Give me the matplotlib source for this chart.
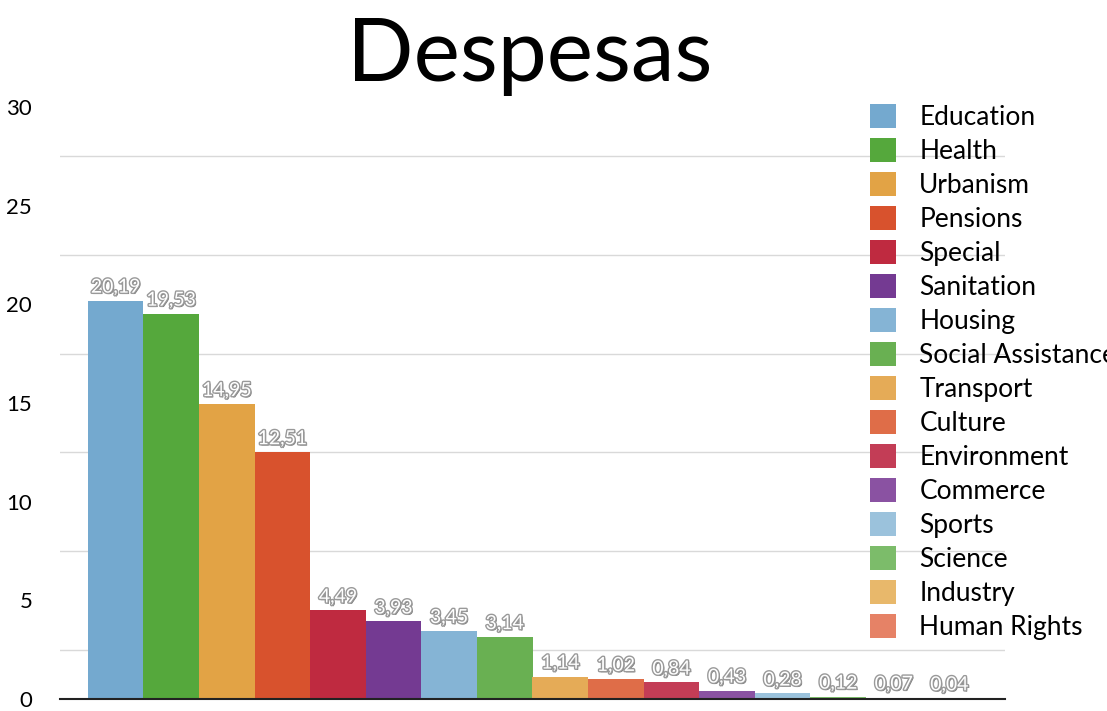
import matplotlib
matplotlib.use("Agg")
import matplotlib.pyplot as plt
import matplotlib.patheffects as pe
import numpy as np

plt.rcParams['font.family'] = ['Lato', 'DejaVu Sans']

categories = ["Education", "Health", "Urbanism", "Pensions", "Special", "Sanitation",
              "Housing", "Social Assistance", "Transport", "Culture", "Environment",
              "Commerce", "Sports", "Science", "Industry", "Human Rights"]
values = [20.19, 19.53, 14.95, 12.51, 4.49, 3.93, 3.45, 3.14,
          1.14, 1.02, 0.84, 0.43, 0.28, 0.12, 0.07, 0.04]
colors = ["#74a9cf", "#55a83c", "#e2a345", "#d8522d", "#bf2a40", "#743a92",
          "#85b4d5", "#69b052", "#e5ab57", "#df6d48", "#c33d56", "#8a52a2",
          "#9bc2dc", "#7cbc6a", "#e8b86b", "#e68266"]
y_ticks = [0, 5, 10, 15, 20, 25, 30]

W, H = 1107, 711
fig = plt.figure(figsize=(W / 100, H / 100), dpi=100)
ax = fig.add_axes([60 / W, 12 / H, (1005 - 60) / W, (699 - 107) / H])

x = np.arange(len(values))
bars = ax.bar(x, values, width=1.0, color=colors, label=categories, zorder=2)

# value labels: white text with a grey outline and soft shadow
for xi, v in zip(x, values):
    txt = ax.text(xi, v + 0.25, "{:.2f}".format(v).replace(".", ","),
                  ha="center", va="bottom", fontsize=14, color="white", zorder=3)
    txt.set_path_effects([pe.withSimplePatchShadow(offset=(1, -1), shadow_rgbFace="#555555", alpha=0.8),
                          pe.withStroke(linewidth=2, foreground="#999999")])

ax.set_xlim(-1, 16)
ax.set_ylim(0, 30)
ax.set_yticks(y_ticks)
ax.set_yticklabels([str(t) for t in y_ticks], fontsize=16)
# gridlines sit halfway between the labelled values
ax.set_yticks(np.arange(2.5, 30, 5), minor=True)
ax.tick_params(axis="y", which="both", length=0, pad=20)
ax.tick_params(axis="x", length=0, labelbottom=False)
ax.grid(axis="y", which="minor", color="#d9d9d9", linewidth=1, zorder=0)
for s in ["top", "right", "left"]:
    ax.spines[s].set_visible(False)
ax.spines["bottom"].set_color("#222222")
ax.spines["bottom"].set_linewidth(1.5)
ax.spines["bottom"].set_zorder(4)

fig.text(530 / W, 1 - 56 / H, "Despesas", ha="center", va="center", fontsize=63)

ax.legend(loc="upper left", bbox_to_anchor=(870 / W, 1 - 104 / H),
          bbox_transform=fig.transFigure, frameon=False, fontsize=19,
          borderpad=0, borderaxespad=0, handlelength=1.0, handleheight=1.0,
          handletextpad=0.87, labelspacing=0.31)

fig.savefig("out.png", dpi=100)
